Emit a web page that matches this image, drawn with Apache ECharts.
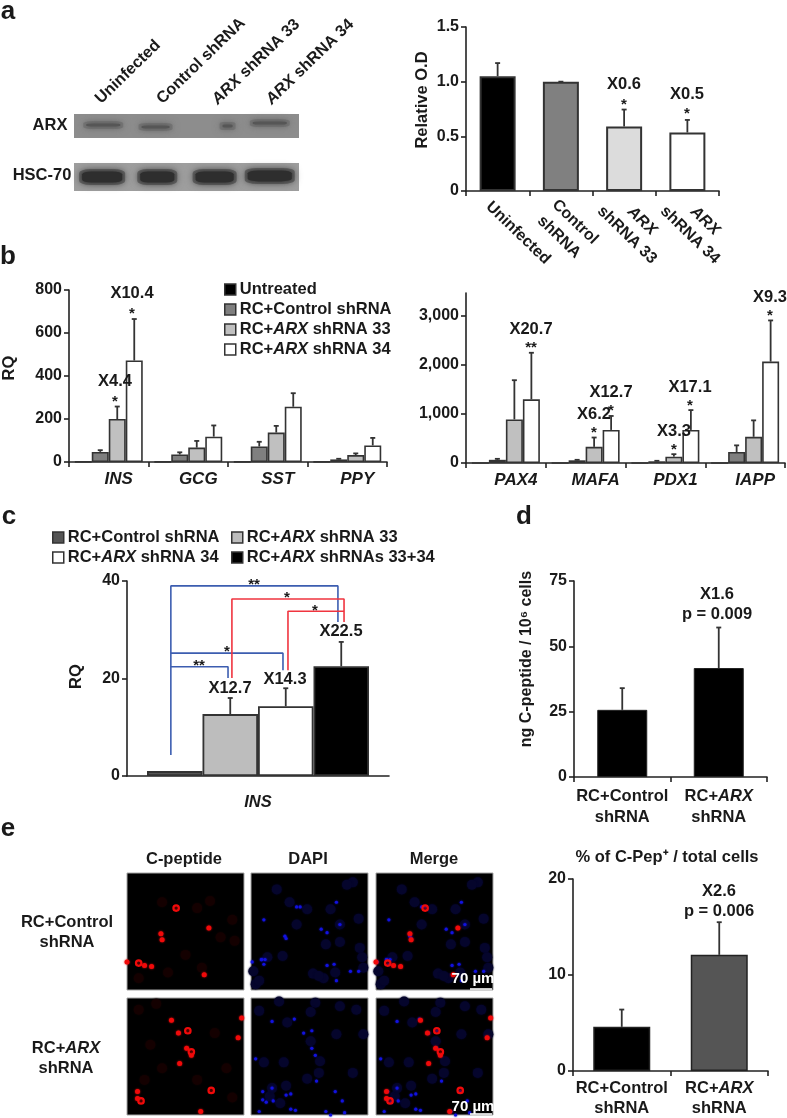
<!DOCTYPE html>
<html>
<head>
<meta charset="utf-8">
<title>ARX knockdown figure</title>
<style>
  html,body{margin:0;padding:0;background:#fff;}
  #main{width:787px;height:1118px;}
</style>
<script src="https://cdn.jsdelivr.net/npm/echarts@6/dist/echarts.min.js"></script>
</head>
<body>
<div id="main"></div>
<script>
// panel a
const odCategories = ['Uninfected','Control shRNA','ARX shRNA 33','ARX shRNA 34']
const odValues = [1.05,1.0,0.59,0.535]
const odErrorTops = [1.17,1.0,0.745,0.65]
const odColors = ['#000','#808080','#dcdcdc','#fff']
const arxLanes = [0.52,1.45,2.73,3.48]
const arxLevels = [0.54,0.46,0.5,0.62]
const hscLanes = [0.5,1.48,2.5,3.48]
const hscLevels = [0.5,0.5,0.5,0.54]
const arxBandWidths = [36,30,12,36]
const hscBandWidths = [42,36,40,46]

// panel b
const leftGenes = ['INS','GCG','SST','PPY']
const rightGenes = ['PAX4','MAFA','PDX1','IAPP']
const treatments = ['Untreated','RC+Control shRNA','RC+ARX shRNA 33','RC+ARX shRNA 34']
const treatmentColors = ['#000','#7f7f7f','#c0c0c0','#fff']
const leftUntreated = [1,1,1,1]
const leftControl = [47,35,72,12]
const leftShrna33 = [200,67,137,32]
const leftShrna34 = [472,118,257,77]
const leftControlTop = [55,45,94,15]
const leftShrna33Top = [258,98,168,40]
const leftShrna34Top = [665,170,320,112]
const rightUntreated = [1,1,1,1]
const rightControl = [65,55,35,225]
const rightShrna33 = [890,330,130,535]
const rightShrna34 = [1300,675,675,2070]
const rightControlTop = [85,65,45,360]
const rightShrna33Top = [1690,520,180,870]
const rightShrna34Top = [2250,960,1080,2910]

// panel c
const insNames = ['RC+Control shRNA','RC+ARX shRNA 33','RC+ARX shRNA 34','RC+ARX shRNAs 33+34']
const insColors = ['#555','#bdbdbd','#fff','#000']
const insValues = [1,12.7,14.3,22.5]
const insErrorTops = [1,16,18,27.5]
const blueBrackets = [
  [[0.43,4.3],[0.43,39],[3.44,39],[3.44,31.6]],
  [[0.43,25.2],[2.45,25.2],[2.45,21.7]],
  [[0.43,22.4],[1.46,22.4],[1.46,20.1]]
]
const redBrackets = [
  [[1.53,20.1],[1.53,36.3],[3.55,36.3],[3.55,31.6]],
  [[2.54,21.7],[2.54,33.8],[3.55,33.8]]
]

// panel d, e
const pairLabels = ['RC+Control\nshRNA','RC+{i|ARX}\nshRNA']
const peptideValues = [25.7,41.7]
const peptideErrorTops = [34,57.2]
const percentValues = [4.6,12.1]
const percentErrorTops = [6.4,15.5]
const percentColors = ['#000','#555']

const redSolid1 = [[29,52],[30,57],[15,79],[70,47],[66,87],[0,76],[21,80]]
const redRing1 = [[42,30],[10,77]]
const redFaint1 = [[71,24],[90,40],[64,81],[50,70],[30,25],[80,55],[92,58],[10,90],[35,85],[60,30]]
const blueBright1 = [[39,29],[42,29],[73,25],[11,40],[29,54],[30,56],[9,74],[11,78],[65,79],[71,78],[73,92],[92,84],[85,84],[65,51],[60,48],[1,76],[76,44],[9,74],[12,74]]
const blueDim1 = [[22,14],[33,25],[87,8],[82,10],[92,39],[76,44],[64,61],[76,59],[93,64],[4,95],[2,84],[14,72],[27,71],[53,86],[96,81],[39,44],[68,31],[48,31],[62,90],[72,85],[95,72],[7,92],[58,88]]
const redSolid2 = [[38,19],[44,30],[51,43],[55,49],[45,56],[95,34],[98,17],[9,86],[9,80],[63,97]]
const redRing2 = [[52,28],[55,46],[72,79],[12,88]]
const redFaint2 = [[10,10],[25,5],[30,60],[75,30],[85,60],[20,40],[60,70],[90,85],[15,70]]
const blueBright2 = [[18,20],[37,18],[45,30],[52,28],[52,43],[55,49],[56,71],[72,80],[78,88],[34,82],[30,83],[18,77],[10,80],[10,87],[13,89],[19,88],[7,97],[34,95],[38,96],[64,97],[68,100],[80,98],[4,52]]
const blueDim2 = [[24,3],[55,4],[76,7],[7,11],[31,21],[51,12],[51,37],[59,54],[58,64],[48,69],[87,64],[96,31],[73,31],[28,55],[11,55],[16,84],[18,77],[25,90],[30,75],[90,10]]

const FONT = 'Liberation Sans'
const AXIS_COLOR = '#222'
const BAR_BORDER = '#333'

let grids = [], xAxes = [], yAxes = [], series = [], graphics = []

function axisBase(){
  return {
    axisLine:{show:true,onZero:false,lineStyle:{color:AXIS_COLOR,width:1.6}},
    axisTick:{show:true,length:5,lineStyle:{color:AXIS_COLOR,width:1.6}},
    splitLine:{show:false},
    axisLabel:{color:'#1a1a1a',fontFamily:FONT,fontWeight:'bold',fontSize:16,margin:7,interval:0,hideOverlap:false}
  }
}

// add a grid with a category x axis and value y axis, returns the index
function addChart(box,categories,yOpt,xLabel){
  let i = grids.length
  grids.push({left:box[0],top:box[1],width:box[2],height:box[3],containLabel:false})
  let xa = axisBase()
  xa.type = 'category'
  xa.gridIndex = i
  xa.data = categories
  xa.axisTick.alignWithLabel = false
  xa.axisTick.interval = 0
  Object.assign(xa.axisLabel,xLabel||{})
  xAxes.push(xa)
  let ya = axisBase()
  delete ya.axisLabel.interval
  ya.type = 'value'
  ya.gridIndex = i
  Object.assign(ya,yOpt)
  yAxes.push(ya)
  return i
}

function errorSeries(axisIdx,vals,tops,slot,barWidth){
  return {
    type:'custom',
    xAxisIndex:axisIdx,
    yAxisIndex:axisIdx,
    silent:true,
    data:vals.map((v,i)=>[i,v,tops[i]]),
    encode:{x:0,y:2},
    renderItem:function(params,api){
      let a = api.coord([api.value(0),api.value(1)])
      let b = api.coord([api.value(0),api.value(2)])
      let x = a[0]+slot*barWidth
      let st = {stroke:'#333',lineWidth:1.8}
      return {type:'group',children:[
        {type:'line',shape:{x1:x,y1:a[1],x2:x,y2:b[1]},style:st},
        {type:'line',shape:{x1:x-2.5,y1:b[1],x2:x+2.5,y2:b[1]},style:st}
      ]}
    }
  }
}

function text(x,y,str,size,extra){
  extra = extra||{}
  graphics.push({
    type:'text',x:x,y:y,rotation:(extra.angle||0)*Math.PI/180,silent:true,z:20,
    style:{
      text:str,
      font:'bold '+size+'px "'+FONT+'"',
      fill:extra.fill||'#1a1a1a',
      align:'center',
      verticalAlign:'middle',
      rich:{i:{font:'italic bold '+size+'px "'+FONT+'"',fill:extra.fill||'#1a1a1a'}}
    }
  })
}

function italicArx(s){ return s.replace('ARX','{i|ARX}') }

// panel a, bar chart
let aIdx = addChart([466,27,253,164],odCategories,{
  min:0,max:1.5,interval:0.5,
  axisLabel:Object.assign(axisBase().axisLabel,{interval:null,formatter:v=>v===0?'0':v.toFixed(1)}),
  name:'Relative O.D',nameLocation:'middle',nameGap:35,
  nameTextStyle:{fontFamily:FONT,fontWeight:'bold',fontSize:16.5,color:'#1a1a1a',padding:[0,0,0,18]}
},{show:false})
series.push({
  type:'bar',xAxisIndex:aIdx,yAxisIndex:aIdx,barWidth:36,
  data:odValues.map((v,i)=>({value:v,itemStyle:{color:odColors[i],borderColor:BAR_BORDER,borderWidth:2}}))
})
series.push(errorSeries(aIdx,odValues,odErrorTops,0,0))

// western blot rows
function addBlot(box,bg,lanes,levels,widths,height,haloColor,bandColor){
  let i = grids.length
  grids.push({left:box[0],top:box[1],width:box[2],height:box[3],show:true,backgroundColor:bg,borderWidth:0})
  xAxes.push({type:'value',gridIndex:i,min:0,max:4,show:false})
  yAxes.push({type:'value',gridIndex:i,min:0,max:1,show:false})
  let pts = lanes.map((x,k)=>[x,levels[k]])
  series.push({
    type:'scatter',xAxisIndex:i,yAxisIndex:i,silent:true,data:pts,symbol:'roundRect',
    symbolSize:(v,p)=>[widths[p.dataIndex]+4,height+3],
    itemStyle:{color:haloColor,opacity:0.8,shadowBlur:7,shadowColor:haloColor}
  })
  series.push({
    type:'scatter',xAxisIndex:i,yAxisIndex:i,silent:true,data:pts,symbol:'roundRect',
    symbolSize:(v,p)=>[widths[p.dataIndex]-2,height-2],
    itemStyle:{color:bandColor,opacity:1,shadowBlur:4,shadowColor:bandColor}
  })
}
addBlot([74,114,225,24],'#8d8d8d',arxLanes,arxLevels,arxBandWidths,5,'#707070','#565656')
addBlot([74,163,225,28],'#9e9e9e',hscLanes,hscLevels,hscBandWidths,13,'#555555','#2e2e2e')

text(128,72,odCategories[0],16.2,{angle:44})
text(201,61,odCategories[1],16.2,{angle:44})
text(256,62,italicArx(odCategories[2]),16.2,{angle:44})
text(310,62,italicArx(odCategories[3]),16.2,{angle:44})
text(50,125,'ARX',16.5)
text(42,175,'HSC-70',16.5)

// rotated labels under the a chart
text(518,233,'Uninfected',16,{angle:-44})
text(575,222,'Control',16,{angle:-44})
text(559,237,'shRNA',16,{angle:-44})
text(642,221,'{i|ARX}',16,{angle:-44})
text(627,235,'shRNA 33',16,{angle:-44})
text(705,221,'{i|ARX}',16,{angle:-44})
text(690,235,'shRNA 34',16,{angle:-44})

// panel b
const geneLabel = {fontStyle:'italic',fontSize:17,margin:9,padding:[0,0,0,20]}
let bLeft = addChart([67,290,320,172],leftGenes,{
  min:0,max:800,interval:200,
  name:'RQ',nameLocation:'middle',nameGap:51,
  nameTextStyle:{fontFamily:FONT,fontWeight:'bold',fontSize:16.5,color:'#1a1a1a',padding:[0,0,0,16]}
},geneLabel)
let bRight = addChart([466,293,319,170],rightGenes,{
  min:0,max:3470,
  axisTick:Object.assign(axisBase().axisTick,{customValues:[0,1000,2000,3000]}),
  axisLabel:Object.assign(axisBase().axisLabel,{interval:null,customValues:[0,1000,2000,3000],formatter:v=>v.toLocaleString('en-US')})
},geneLabel)

function groupedBars(idx,sets,topSets){
  sets.forEach((vals,k)=>{
    series.push({
      type:'bar',name:treatments[k],xAxisIndex:idx,yAxisIndex:idx,barWidth:17,barGap:0,
      data:vals,
      itemStyle:{color:treatmentColors[k],borderColor:BAR_BORDER,borderWidth:1.6}
    })
  })
  topSets.forEach((tops,k)=>{
    series.push(errorSeries(idx,sets[k+1],tops,k-0.5,17))
  })
}
groupedBars(bLeft,[leftUntreated,leftControl,leftShrna33,leftShrna34],[leftControlTop,leftShrna33Top,leftShrna34Top])
groupedBars(bRight,[rightUntreated,rightControl,rightShrna33,rightShrna34],[rightControlTop,rightShrna33Top,rightShrna34Top])

// panel c
let cIdx = addChart([127,581,262,195],['INS'],{
  min:0,max:40,interval:20,
  name:'RQ',nameLocation:'middle',nameGap:42,
  nameTextStyle:{fontFamily:FONT,fontWeight:'bold',fontSize:16.5,color:'#1a1a1a',padding:[0,0,0,4]}
},{fontStyle:'italic',fontSize:16.5,margin:18})
xAxes[cIdx].axisTick = {show:false}
insNames.forEach((name,k)=>{
  series.push({
    type:'bar',name:name,xAxisIndex:cIdx,yAxisIndex:cIdx,barWidth:55.5,barGap:0,
    data:[insValues[k]],
    itemStyle:{color:insColors[k],borderColor:BAR_BORDER,borderWidth:1.8}
  })
})
insNames.forEach((name,k)=>{
  if(k>0) series.push(errorSeries(cIdx,[insValues[k]],[insErrorTops[k]],k-1.5,55.5))
})

// panel d
const pairRich = h => ({i:{fontStyle:'italic',fontWeight:'bold',fontFamily:FONT,fontSize:16.5,color:'#1a1a1a',lineHeight:h}})
let dIdx = addChart([574,581,193,196],pairLabels,{
  min:0,max:75,interval:25,
  name:'ng C-peptide / 10⁶ cells',nameLocation:'middle',nameGap:39,
  nameTextStyle:{fontFamily:FONT,fontWeight:'bold',fontSize:16,color:'#1a1a1a',padding:[0,0,0,40]}
},{fontSize:16.5,lineHeight:21,margin:9,rich:pairRich(21)})
series.push({
  type:'bar',xAxisIndex:dIdx,yAxisIndex:dIdx,barWidth:50,data:peptideValues,
  itemStyle:{color:'#000',borderColor:'#222',borderWidth:1}
})
series.push(errorSeries(dIdx,peptideValues,peptideErrorTops,0,0))

// panel e chart
let eIdx = addChart([573,879,195,196],pairLabels,{
  min:0,max:20,interval:10
},{fontSize:16.5,lineHeight:20,margin:7,rich:pairRich(20)})
series.push({
  type:'bar',xAxisIndex:eIdx,yAxisIndex:eIdx,barWidth:57,
  data:percentValues.map((v,i)=>({value:v,itemStyle:{color:percentColors[i],borderColor:'#222',borderWidth:1.5}}))
})
series.push(errorSeries(eIdx,percentValues,percentErrorTops,0,0))

// micrographs
function spots(idx,data,size,color,ring){
  series.push({
    type:'scatter',xAxisIndex:idx,yAxisIndex:idx,silent:true,data:data,symbolSize:size,
    itemStyle:ring
      ? {color:'rgba(120,0,0,0.6)',borderColor:color,borderWidth:2.2,opacity:1}
      : {color:color,opacity:1,shadowBlur:2,shadowColor:color}
  })
}
function addMicro(left,top,layers){
  let i = grids.length
  grids.push({left:left,top:top,width:117,height:117,show:true,backgroundColor:'#000',borderColor:'#a5a5a5',borderWidth:1})
  xAxes.push({type:'value',gridIndex:i,min:0,max:100,show:false})
  yAxes.push({type:'value',gridIndex:i,min:0,max:100,inverse:true,show:false})
  layers(i)
}
function redLayer(i,solid,ring,faint){
  spots(i,faint,10,'#140000')
  spots(i,solid,5,'#f00a0a')
  spots(i,ring,5.5,'#f00a0a',true)
}
function blueLayer(i,bright,dim){
  spots(i,dim,10,'#05052c')
  spots(i,bright,3.2,'#1212e0')
}
const colLefts = [127,251,376]
const rowTops = [873,998]
addMicro(colLefts[0],rowTops[0],i=>redLayer(i,redSolid1,redRing1,redFaint1))
addMicro(colLefts[1],rowTops[0],i=>blueLayer(i,blueBright1,blueDim1))
addMicro(colLefts[2],rowTops[0],i=>{blueLayer(i,blueBright1,blueDim1);redLayer(i,redSolid1,redRing1,[])})
addMicro(colLefts[0],rowTops[1],i=>redLayer(i,redSolid2,redRing2,redFaint2))
addMicro(colLefts[1],rowTops[1],i=>blueLayer(i,blueBright2,blueDim2))
addMicro(colLefts[2],rowTops[1],i=>{blueLayer(i,blueBright2,blueDim2);redLayer(i,redSolid2,redRing2,[])})

// hidden x scale for the significance brackets, in bar widths from the first bar
xAxes.push({type:'value',gridIndex:cIdx,min:-0.36,max:4.36,show:false})
let bracketAxis = xAxes.length-1
function addBrackets(list,color){
  list.forEach(path=>{
    series.push({
      type:'line',xAxisIndex:bracketAxis,yAxisIndex:cIdx,silent:true,showSymbol:false,z:5,
      data:path,
      lineStyle:{color:color,width:1.6}
    })
  })
}
addBrackets(blueBrackets,'#3c5db0')
addBrackets(redBrackets,'#f0343f')

// scale bars
rowTops.forEach(t=>{
  graphics.push({type:'line',silent:true,z:21,shape:{x1:470,y1:t+116,x2:492,y2:t+116},style:{stroke:'#fff',lineWidth:1.6}})
})
text(473,979,'70 µm',15,{fill:'#fff'})
text(473,1107,'70 µm',15,{fill:'#fff'})

// annotations
const LABEL = 16.5
function star(x,y,s){ text(x,y+4,s||'*',15) }
text(8,12,'a',26); text(8,257,'b',26); text(9,517,'c',26); text(524,517,'d',26); text(8,829,'e',26)

text(624,84,'X0.6',LABEL); star(624,101)
text(687,94,'X0.5',LABEL); star(687,110)
text(132,293,'X10.4',LABEL); star(132,310)
text(115,381,'X4.4',LABEL); star(115,398)
text(531,329,'X20.7',LABEL); star(531,344,'**')
text(611,392,'X12.7',LABEL); star(611,407)
text(594,414,'X6.2',LABEL); star(594,429)
text(690,387,'X17.1',LABEL); star(690,402)
text(674,431,'X3.3',LABEL); star(674,446)
text(770,297,'X9.3',LABEL); star(770,312)
text(341,631,'X22.5',LABEL); text(285,679,'X14.3',LABEL); text(230,688,'X12.7',LABEL)
star(254,581,'**'); star(287,594); star(315,607); star(227,648); star(199,662,'**')
text(717,594,'X1.6',LABEL); text(717,614,'p = 0.009',LABEL)
text(719,891,'X2.6',LABEL); text(719,911,'p = 0.006',LABEL)
text(667,857,'% of C-Pep⁺ / total cells',16.5)
text(184,859,'C-peptide',LABEL); text(308,859,'DAPI',LABEL); text(434,859,'Merge',LABEL)
text(67,922,'RC+Control',LABEL); text(67,942,'shRNA',LABEL)
text(66,1048,'RC+{i|ARX}',LABEL); text(66,1068,'shRNA',LABEL)

function legendBlock(left,top,names,colors,gap){
  return {
    left:left,top:top,orient:'vertical',icon:'rect',itemWidth:11,itemHeight:11,itemGap:gap,
    selectedMode:false,padding:0,
    formatter:italicArx,
    textStyle:{
      fontFamily:FONT,fontWeight:'bold',fontSize:16.5,color:'#1a1a1a',padding:[0,0,0,-1],
      rich:{i:{fontFamily:FONT,fontStyle:'italic',fontWeight:'bold',fontSize:16.5,color:'#1a1a1a'}}
    },
    data:names.map((n,i)=>({name:n,itemStyle:{color:colors[i],borderColor:BAR_BORDER,borderWidth:1.5}}))
  }
}

let myChart = echarts.init(document.getElementById('main'))
myChart.setOption({
  animation:false,
  backgroundColor:'#fff',
  tooltip:{show:false},
  grid:grids,
  xAxis:xAxes,
  yAxis:yAxes,
  series:series,
  legend:[
    legendBlock(224,281,treatments,treatmentColors,3),
    legendBlock(52,529,[insNames[0],insNames[2]],[insColors[0],insColors[2]],3),
    legendBlock(231,529,[insNames[1],insNames[3]],[insColors[1],insColors[3]],3)
  ],
  graphic:{elements:graphics}
})
</script>
</body>
</html>
